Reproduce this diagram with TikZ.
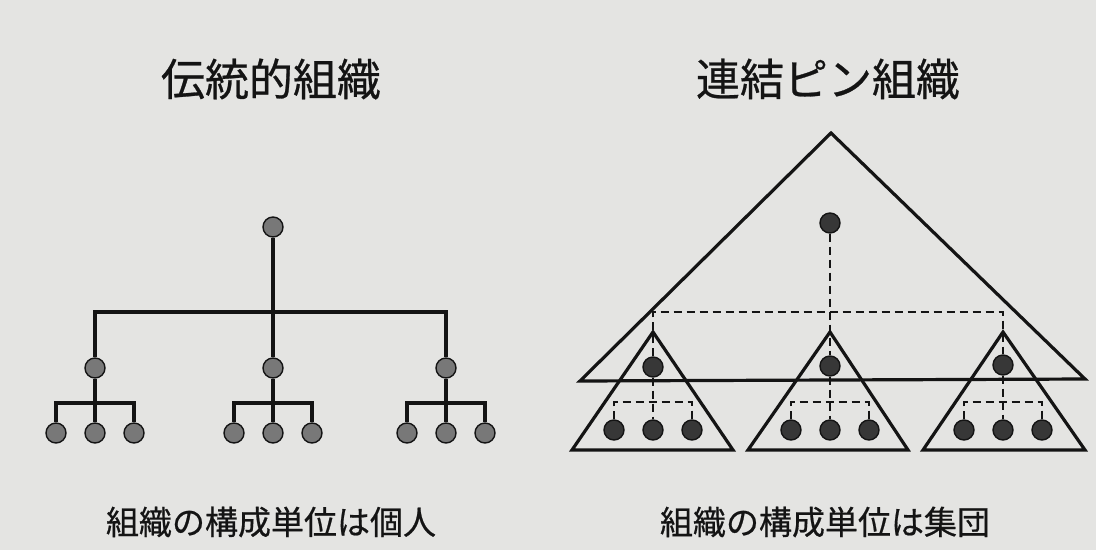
\documentclass[tikz,border=0pt]{standalone}
\usepackage{fontspec}
\newfontfamily\jp[FakeBold=0.6]{Noto Sans CJK JP}
\definecolor{bg}{RGB}{228,228,226}
\definecolor{lnode}{RGB}{120,120,120}
\definecolor{rnode}{RGB}{55,55,55}
\definecolor{ink}{RGB}{20,20,20}
\tikzset{
  pnl/.style={circle,draw=ink,line width=1.4pt,fill=lnode,minimum size=20pt,inner sep=0pt},
  pnr/.style={circle,draw=ink,line width=1.4pt,fill=rnode,minimum size=20pt,inner sep=0pt},
  solidln/.style={draw=ink,line width=3.2pt},
  dashln/.style={draw=ink,line width=2.6pt,dash pattern=on 8pt off 5pt},
  triln/.style={draw=ink,line width=3.2pt,line join=miter},
  title/.style={font=\jp\fontsize{44}{50}\selectfont,text=ink},
  caption/.style={font=\jp\fontsize{33}{38}\selectfont,text=ink}
}
\begin{document}
\begin{tikzpicture}[x=1pt,y=-1pt]
\fill[bg] (0,0) rectangle (1096,550);
\useasboundingbox (0,0) rectangle (1096,550);

% titles
\node[title] (t1) at (271,79) {伝統的組織};
\node[title] (t2) at (828,79) {連結ピン組織};
\node[caption] (c1) at (271,522) {組織の構成単位は個人};
\node[caption] (c2) at (825,522) {組織の構成単位は集団};

% ---------- left: traditional ----------
\node[pnl] (L0) at (273,227) {};
\node[pnl] (L1) at (95,368) {};
\node[pnl] (L2) at (273,368) {};
\node[pnl] (L3) at (446,368) {};
\coordinate (Lb) at (273,312);
\draw[solidln] (L0) -- (L2);
\draw[solidln] (L1) |- (Lb) -| (L3);

\foreach \i/\x in {1/95,2/273,3/446}{
  \node[pnl] (L\i a) at (\x-39,433) {};
  \node[pnl] (L\i b) at (\x,433) {};
  \node[pnl] (L\i c) at (\x+39,433) {};
  \coordinate (L\i bar) at (\x,403);
  \draw[solidln] (L\i) -- (L\i b);
  \draw[solidln] (L\i a) |- (L\i bar) -| (L\i c);
}

% ---------- right: linking pin ----------
\coordinate (A) at (831,133);
\coordinate (B) at (580,381);
\coordinate (C) at (1085,379);
\draw[triln] (A) -- (B) -- (C) -- cycle;

\foreach \i/\x/\l/\r in {1/653/572/733,2/830/748/908,3/1003/923/1085}{
  \coordinate (T\i a) at (\x,332);
  \draw[triln] (T\i a) -- (\l,450) -- (\r,450) -- cycle;
}

\node[pnr] (R0) at (830,223) {};
\node[pnr] (R1) at (653,367) {};
\node[pnr] (R2) at (830,366) {};
\node[pnr] (R3) at (1003,365) {};
\coordinate (Rb) at (830,312);
\draw[dashln] (R0) -- (R2);
\draw[dashln] (R1) |- (Rb) -| (R3);

\foreach \i/\x in {1/653,2/830,3/1003}{
  \node[pnr] (R\i a) at (\x-39,430) {};
  \node[pnr] (R\i b) at (\x,430) {};
  \node[pnr] (R\i c) at (\x+39,430) {};
  \coordinate (R\i bar) at (\x,402);
  \draw[dashln] (R\i) -- (R\i b);
  \draw[dashln] (R\i a) |- (R\i bar) -| (R\i c);
}
\end{tikzpicture}
\end{document}
